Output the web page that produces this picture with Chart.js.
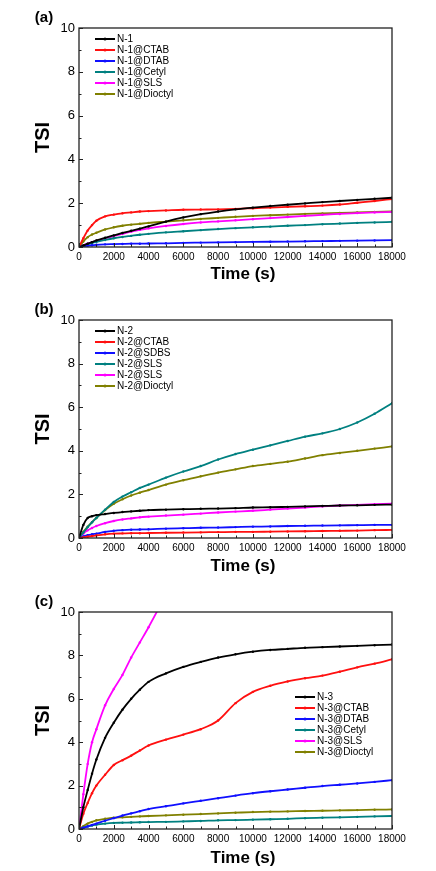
<!DOCTYPE html>
<html>
<head>
<meta charset="utf-8">
<script src="https://cdn.jsdelivr.net/npm/chart.js@4.4.1/dist/chart.umd.min.js"></script>
<style>
  html, body { margin: 0; padding: 0; background: #fff; overflow: hidden; }
  body { width: 436px; height: 871px; position: relative; }
  .panel { position: absolute; left: 0; width: 436px; height: 290px; }
</style>
</head>
<body>
<div class="panel" style="top:0px"><canvas id="chartA"></canvas></div>
<div class="panel" style="top:292px"><canvas id="chartB"></canvas></div>
<div class="panel" style="top:584px"><canvas id="chartC"></canvas></div>
<script>
// time axis (s), shared by all series
const times = [0, 250, 500, 750, 1000, 1500, 2000, 2500, 3000, 3500, 4000, 5000, 6000, 7000, 8000, 9000, 10000, 11000, 12000, 13000, 14000, 15000, 16000, 17000, 18000];
const xTicks = [0, 2000, 4000, 6000, 8000, 10000, 12000, 14000, 16000, 18000];
const yTicks = [0, 2, 4, 6, 8, 10];

// (a)
const labelsA = ["N-1", "N-1@CTAB", "N-1@DTAB", "N-1@Cetyl", "N-1@SLS", "N-1@Dioctyl"];
const a_n1      = [0, 0.07, 0.15, 0.22, 0.30, 0.42, 0.53, 0.64, 0.74, 0.84, 0.94, 1.16, 1.35, 1.50, 1.62, 1.72, 1.80, 1.87, 1.93, 1.99, 2.05, 2.10, 2.15, 2.20, 2.25];
const a_ctab    = [0, 0.40, 0.75, 1.00, 1.20, 1.40, 1.48, 1.54, 1.58, 1.62, 1.64, 1.67, 1.70, 1.71, 1.72, 1.74, 1.77, 1.80, 1.83, 1.86, 1.89, 1.94, 2.02, 2.10, 2.19];
const a_dtab    = [0, 0.03, 0.06, 0.08, 0.10, 0.12, 0.13, 0.14, 0.15, 0.15, 0.16, 0.17, 0.19, 0.20, 0.21, 0.22, 0.23, 0.24, 0.25, 0.26, 0.27, 0.28, 0.29, 0.30, 0.31];
const a_cetyl   = [0, 0.06, 0.12, 0.18, 0.23, 0.32, 0.40, 0.46, 0.51, 0.56, 0.60, 0.67, 0.72, 0.77, 0.82, 0.86, 0.90, 0.93, 0.97, 1.00, 1.04, 1.07, 1.10, 1.12, 1.15];
const a_sls     = [0, 0.08, 0.15, 0.22, 0.28, 0.39, 0.50, 0.60, 0.70, 0.78, 0.85, 0.96, 1.05, 1.12, 1.17, 1.22, 1.27, 1.32, 1.37, 1.42, 1.47, 1.51, 1.55, 1.58, 1.60];
const a_dioctyl = [0, 0.25, 0.45, 0.57, 0.65, 0.80, 0.90, 0.97, 1.02, 1.06, 1.10, 1.16, 1.22, 1.28, 1.33, 1.38, 1.42, 1.45, 1.48, 1.51, 1.53, 1.56, 1.58, 1.60, 1.62];

// (b)
const labelsB = ["N-2", "N-2@CTAB", "N-2@SDBS", "N-2@SLS", "N-2@SLS", "N-2@Dioctyl"];
const b_n2      = [0, 0.60, 0.92, 1.00, 1.05, 1.10, 1.15, 1.19, 1.22, 1.25, 1.28, 1.30, 1.32, 1.34, 1.35, 1.37, 1.40, 1.41, 1.43, 1.45, 1.47, 1.49, 1.50, 1.52, 1.53];
const b_ctab    = [0, 0.03, 0.06, 0.09, 0.12, 0.17, 0.20, 0.21, 0.22, 0.22, 0.23, 0.24, 0.25, 0.26, 0.27, 0.28, 0.28, 0.29, 0.30, 0.31, 0.32, 0.33, 0.34, 0.36, 0.37];
const b_sdbs    = [0, 0.07, 0.13, 0.17, 0.20, 0.28, 0.33, 0.36, 0.38, 0.39, 0.40, 0.43, 0.45, 0.47, 0.48, 0.50, 0.52, 0.53, 0.55, 0.56, 0.57, 0.58, 0.59, 0.60, 0.60];
const b_sls     = [0, 0.25, 0.50, 0.72, 0.92, 1.30, 1.65, 1.90, 2.10, 2.30, 2.45, 2.77, 3.05, 3.30, 3.60, 3.85, 4.05, 4.25, 4.45, 4.65, 4.80, 5.00, 5.30, 5.70, 6.18];
const b_sls2    = [0, 0.20, 0.35, 0.46, 0.55, 0.68, 0.78, 0.85, 0.90, 0.95, 0.98, 1.03, 1.07, 1.12, 1.17, 1.21, 1.25, 1.30, 1.35, 1.40, 1.45, 1.49, 1.52, 1.55, 1.58];
const b_dioctyl = [0, 0.28, 0.52, 0.73, 0.92, 1.28, 1.57, 1.78, 1.95, 2.08, 2.20, 2.45, 2.65, 2.83, 3.00, 3.15, 3.30, 3.40, 3.50, 3.65, 3.80, 3.90, 4.00, 4.10, 4.20];

// (c)
const labelsC = ["N-3", "N-3@CTAB", "N-3@DTAB", "N-3@Cetyl", "N-3@SLS", "N-3@Dioctyl"];
const c_n3      = [0, 1.00, 1.80, 2.55, 3.20, 4.20, 4.90, 5.50, 6.00, 6.42, 6.78, 7.17, 7.47, 7.70, 7.90, 8.05, 8.17, 8.25, 8.30, 8.35, 8.38, 8.41, 8.44, 8.47, 8.50];
const c_ctab    = [0, 0.70, 1.20, 1.65, 2.00, 2.50, 2.95, 3.17, 3.38, 3.62, 3.85, 4.12, 4.35, 4.60, 5.00, 5.80, 6.32, 6.60, 6.80, 6.95, 7.07, 7.25, 7.45, 7.62, 7.82];
const c_dtab    = [0, 0.06, 0.12, 0.19, 0.25, 0.38, 0.50, 0.62, 0.72, 0.82, 0.92, 1.05, 1.18, 1.30, 1.42, 1.54, 1.65, 1.74, 1.82, 1.90, 1.98, 2.04, 2.10, 2.17, 2.25];
const c_cetyl   = [0, 0.06, 0.12, 0.16, 0.20, 0.25, 0.28, 0.29, 0.30, 0.31, 0.32, 0.33, 0.35, 0.37, 0.40, 0.41, 0.43, 0.45, 0.47, 0.50, 0.52, 0.54, 0.56, 0.58, 0.60];
const c_sls     = [0, 1.60, 3.00, 4.00, 4.60, 5.70, 6.45, 7.10, 7.90, 8.60, 9.30, 10.80, null, null, null, null, null, null, null, null, null, null, null, null, null];
const c_dioctyl = [0, 0.13, 0.25, 0.33, 0.40, 0.47, 0.52, 0.54, 0.56, 0.58, 0.60, 0.63, 0.66, 0.69, 0.72, 0.75, 0.78, 0.80, 0.81, 0.83, 0.84, 0.86, 0.87, 0.89, 0.90];

const colors = ["#000000", "#ff1010", "#1010ff", "#008080", "#ff00ff", "#808000"];
const FONT = "'Liberation Sans', Arial, sans-serif";

function makeSeries(labels, series) {
  return series.map((vals, i) => ({
    label: labels[i],
    data: times.map((t, j) => ({ x: t, y: vals[j] })),
    borderColor: colors[i],
    backgroundColor: colors[i],
    borderWidth: 1.8,
    pointRadius: 1.2,
    pointBorderWidth: 0,
    pointBackgroundColor: colors[i],
    cubicInterpolationMode: "monotone",
    spanGaps: false,
  }));
}

// frame, inward ticks, panel tag, x title and legend
const decorPlugin = {
  id: "decor",
  afterDatasetsDraw(chart, args, opts) {
    const ctx = chart.ctx;
    const area = chart.chartArea;
    const xs = chart.scales.x, ys = chart.scales.y;
    ctx.save();
    ctx.strokeStyle = "#222";
    ctx.lineWidth = 1.3;
    ctx.strokeRect(area.left, area.top, area.right - area.left, area.bottom - area.top);

    ctx.lineWidth = 1;
    ctx.beginPath();
    for (let v = 0; v <= 10; v += 1) {
      const py = Math.round(ys.getPixelForValue(v)) + 0.5;
      const len = v % 2 === 0 ? 4 : 2.5;
      ctx.moveTo(area.left, py);
      ctx.lineTo(area.left + len, py);
    }
    for (let v = 0; v <= 18000; v += 1000) {
      const px = Math.round(xs.getPixelForValue(v)) + 0.5;
      const len = v % 2000 === 0 ? 4 : 2.5;
      ctx.moveTo(px, area.bottom);
      ctx.lineTo(px, area.bottom - len);
    }
    ctx.stroke();

    // panel tag
    ctx.fillStyle = "#000";
    ctx.font = "bold 15px " + FONT;
    ctx.textAlign = "center";
    ctx.textBaseline = "middle";
    ctx.fillText(opts.tag, 44, 18);

    // x axis title
    ctx.font = "bold 17px " + FONT;
    ctx.fillText("Time (s)", 243, 274);

    // legend
    ctx.font = "10px " + FONT;
    ctx.textAlign = "left";
    chart.data.datasets.forEach((ds, i) => {
      const y = opts.legendY + i * 11;
      const x = opts.legendX;
      ctx.strokeStyle = ds.borderColor;
      ctx.lineWidth = 2;
      ctx.beginPath();
      ctx.moveTo(x, y);
      ctx.lineTo(x + 20, y);
      ctx.stroke();
      ctx.fillStyle = ds.borderColor;
      ctx.beginPath();
      ctx.arc(x + 10, y, 1.5, 0, Math.PI * 2);
      ctx.fill();
      ctx.fillStyle = "#000";
      ctx.fillText(ds.label, x + 22, y + 0.5);
    });
    ctx.restore();
  }
};

function makeChart(id, labels, series, tag, xHeight, legendX, legendY) {
  const ctx = document.getElementById(id).getContext("2d");
  return new Chart(ctx, {
    type: "line",
    data: { datasets: makeSeries(labels, series) },
    options: {
      responsive: true,
      maintainAspectRatio: false,
      animation: false,
      layout: { padding: { top: 28, right: 44, left: 0, bottom: 0 } },
      plugins: {
        legend: { display: false },
        tooltip: { enabled: false },
        decor: { tag: tag, legendX: legendX, legendY: legendY },
      },
      scales: {
        x: {
          type: "linear",
          min: 0,
          max: 18000,
          afterBuildTicks: (scale) => { scale.ticks = xTicks.map(v => ({ value: v })); },
          afterFit: (scale) => { scale.height = xHeight; },
          grid: { display: false, drawTicks: false },
          border: { display: false },
          ticks: {
            padding: 4,
            maxRotation: 0,
            autoSkip: false,
            color: "#000",
            font: { family: FONT, size: 10 },
            callback: (v) => String(v),
          },
          title: { display: false },
        },
        y: {
          min: 0,
          max: 10,
          afterBuildTicks: (scale) => { scale.ticks = yTicks.map(v => ({ value: v })); },
          afterFit: (scale) => { scale.width = 79; },
          grid: { display: false, drawTicks: false },
          border: { display: false },
          ticks: {
            padding: 4,
            color: "#000",
            font: { family: FONT, size: 13 },
          },
          title: {
            display: true,
            text: "TSI",
            color: "#000",
            font: { family: FONT, size: 20, weight: "bold", lineHeight: 1 },
            padding: { top: 33, bottom: 0 },
          },
        },
      },
    },
    plugins: [decorPlugin],
  });
}

window.onload = () => {
  makeChart("chartA", labelsA, [a_n1, a_ctab, a_dtab, a_cetyl, a_sls, a_dioctyl], "(a)", 43, 95, 39);
  makeChart("chartB", labelsB, [b_n2, b_ctab, b_sdbs, b_sls, b_sls2, b_dioctyl], "(b)", 44, 95, 39);
  makeChart("chartC", labelsC, [c_n3, c_ctab, c_dtab, c_cetyl, c_sls, c_dioctyl], "(c)", 45, 295, 113);
};
</script>
</body>
</html>
